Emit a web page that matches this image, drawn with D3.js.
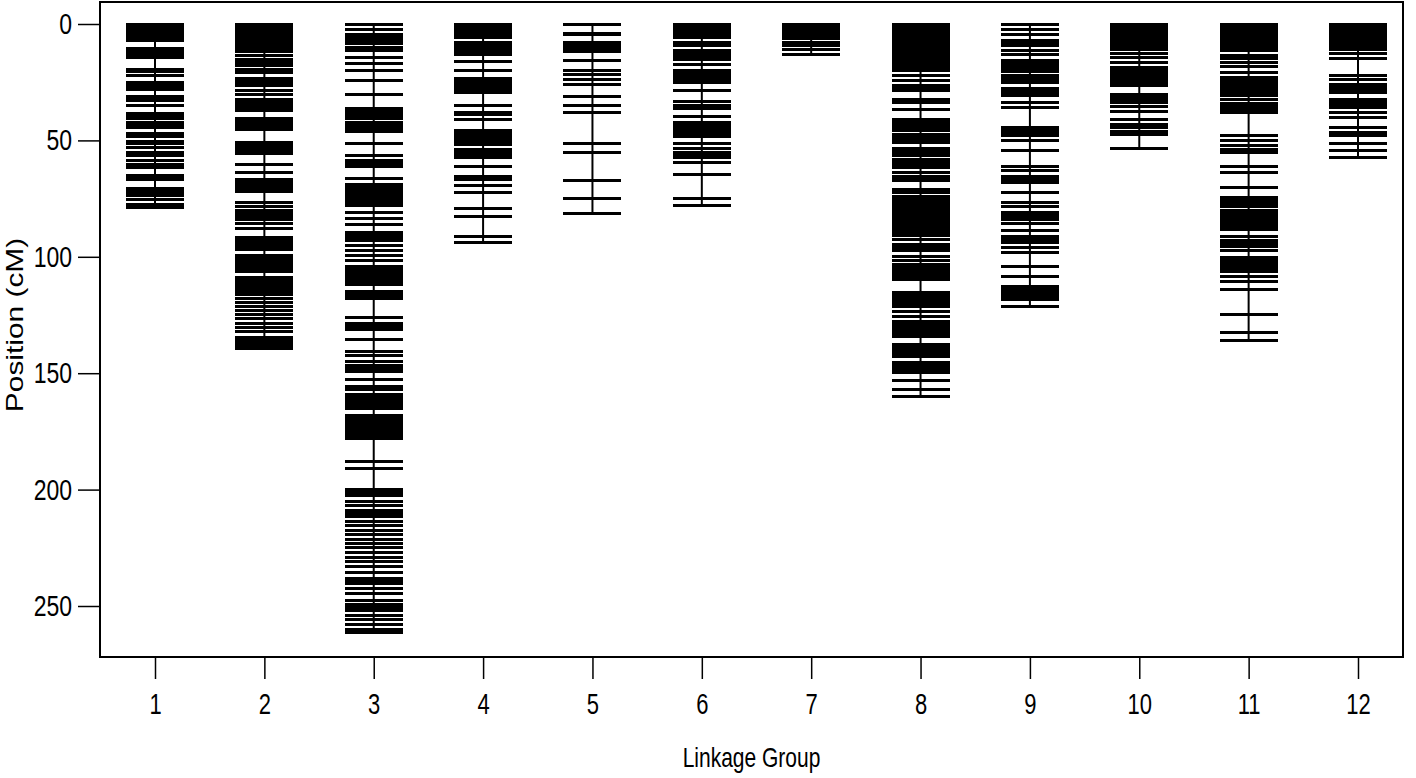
<!DOCTYPE html>
<html>
<head>
<meta charset="utf-8">
<script src="https://cdn.jsdelivr.net/npm/d3@7"></script>
<style>
  body { margin: 0; background: #fff; }
  text { font-family: "Liberation Sans", Arial, sans-serif; fill: #000; }
</style>
</head>
<body>
<div id="chart"></div>
<script>
// linkage groups and marker positions (cM)
const groups = [1, 2, 3, 4, 5, 6, 7, 8, 9, 10, 11, 12];
const yTicks = [0, 50, 100, 150, 200, 250];

const lg1 = [0, 1, 2, 3, 4, 5, 6, 7, 10.5, 11.5, 12.5, 13.5, 14.5, 19.5, 20.3, 22, 25, 26, 27, 28, 31, 32, 33, 35,
  38.5, 39.5, 40.5, 42.5, 43.5, 44.5, 47, 48.5, 50.5, 51.2, 53, 55.2, 56.7, 58.5, 60.5, 61.5, 65, 66, 67,
  70.5, 71.5, 72.5, 73.5, 75.5, 77.5, 79];
const lg2 = [0, 1, 2, 3, 4, 5, 6, 7, 8, 9, 10, 11, 12, 13.6, 15.1, 16.5, 17.9, 19.4, 20.8, 23.5, 24.5, 25.5, 26.5,
  28.7, 30.1, 32.5, 33.5, 34.5, 35.5, 36.5, 37, 40.5, 41.5, 42.5, 43.5, 44.5, 45.5, 51, 52, 53, 54, 55, 55.5,
  60.2, 63.8, 67, 68, 69, 70, 71, 72, 76.7, 78.2, 80, 81, 82, 83, 84, 85.6, 87.9, 91.5, 92.5, 93.5, 94.5, 95.5,
  96.5, 97, 99.4, 100, 101, 102, 103, 104, 105, 106, 106.5, 109, 110, 111, 112, 113, 114, 115, 116, 118, 119.8,
  121.2, 122.9, 124.8, 126.6, 128.7, 130.5, 132.2, 134.5, 135.5, 136.5, 137.5, 138.5, 139.5];
const lg3 = [0, 2.3, 4.5, 6, 7.2, 8.4, 10.1, 11.5, 14.5, 17.1, 19.8, 24.1, 30.3, 36.4, 37.5, 38.6, 39.7, 40.8,
  42.2, 43.5, 44.8, 46, 51.2, 56.4, 58.5, 60, 61, 66.5, 69, 70.3, 71.6, 72.6, 74.3, 75.5, 76.7, 77.8, 80.8, 83.4,
  86, 89.5, 90.7, 91.9, 93, 95, 97.3, 99.4, 101.6, 104, 105.2, 106.4, 107.6, 108.8, 110, 111.2, 112, 114.7, 115.8,
  117, 118.1, 126, 128.6, 130, 131.2, 135.5, 140.7, 142.5, 145, 146.5, 148, 149.4, 152.9, 155.5, 157.2, 159, 160.2,
  161.4, 162.6, 163.8, 165, 168, 169, 170, 171, 172, 173, 174, 175, 176, 177, 178, 188, 191, 200, 201.2, 202.4,
  205, 207, 209, 210.2, 211.4, 213.5, 215.5, 217.5, 219.5, 221.5, 223, 225, 227, 229, 231, 233, 235.5, 238, 239.2,
  240.4, 242.5, 244.5, 247.5, 249.5, 250.7, 251.9, 254, 256, 258, 260, 261.5];
const lg4 = [0, 1, 2, 3, 4, 5, 6, 8, 9, 10, 11, 12, 12.9, 16.2, 20.1, 23.2, 24.2, 25.2, 26.2, 27.2, 28.2, 29.5,
  34.9, 38, 38.8, 41.2, 45.6, 46.7, 47.8, 49.2, 50.5, 51.8, 53.8, 55, 56.2, 57.4, 61.4, 65.3, 66.7, 69.2, 72.4,
  79.2, 82.5, 91.2, 93.8];
const lg5 = [0, 4, 4.6, 7.9, 9.2, 10.5, 11.9, 15.8, 20.1, 21.5, 23.7, 25.8, 31.3, 34.9, 38, 51.3, 55.2, 67.4,
  74.9, 81.3];
const lg6 = [0, 1, 2, 3, 4, 5, 6, 7.9, 9.3, 11.2, 12.5, 13.8, 15.1, 17.2, 20.1, 21.3, 22.5, 23.8, 25.1, 28.7,
  33.4, 34.8, 36.3, 39.7, 42.3, 43.5, 44.7, 45.9, 47.1, 48.3, 51.2, 53.4, 55.2, 56.3, 57.4, 59.5, 64.5, 74.9, 78];
const lg7 = [0, 1, 2, 3, 4, 5, 6.2, 7.9, 9.3, 10.8, 12.9];
const lg8 = [0, 1, 2, 3, 4, 5, 6, 7, 8, 9, 10, 11, 12, 13, 14, 15, 16, 17, 18, 19, 20, 22.2, 24.4, 26.5, 27.6,
  28.7, 32.3, 33.7, 36.6, 40.9, 42.1, 43.4, 44.6, 45.9, 47.3, 48.5, 49.7, 50.9, 53.4, 54.5, 55.6, 56.7, 58.1,
  59.5, 60.6, 61.7, 63.6, 65.5, 66.5, 67.4, 71, 72.5, 73.9, 75.3, 76.3, 77.3, 78.3, 79.3, 80.3, 81.3, 82.3, 83.2,
  84.6, 85.8, 87, 88.2, 89.6, 91, 92.5, 94.7, 95.6, 96.6, 97.5, 99.7, 101.8, 103.3, 104.4, 105.4, 106.5, 107.6,
  108.6, 109.7, 115.4, 116.4, 117.3, 118.3, 119.3, 120.2, 121.2, 123.4, 125.5, 127.7, 129.1, 130.5, 131.7, 132.9,
  134.1, 137.7, 138.7, 139.7, 140.7, 141.7, 142.7, 145.6, 146.7, 147.8, 148.9, 149.9, 153, 157, 160];
const lg9 = [0, 2.2, 4.7, 7.2, 8.2, 9.3, 11.5, 12.9, 15.8, 16.8, 17.8, 18.8, 19.7, 20.5, 22.2, 23.2, 24.2, 25.1,
  27.7, 28.8, 29.9, 30.9, 33.7, 35.8, 44.5, 45.9, 47, 48.1, 50.2, 54.5, 61, 63.1, 65.3, 66.7, 68.1, 72.4, 76.7,
  78.2, 81, 82, 83, 84, 85.5, 88.5, 91.1, 92.5, 93.9, 96.1, 98.2, 104, 108.3, 112.6, 113.7, 114.8, 115.8, 116.9,
  118.3, 121.3];
const lg10 = [0, 1, 2, 3, 4, 5, 6, 7, 8, 9, 10, 11, 12.5, 14.5, 16.5, 18.6, 19.6, 20.6, 21.6, 22.6, 23.6, 24.6,
  25.6, 26.5, 30.1, 31.3, 32.5, 33.7, 35.4, 37.7, 40.9, 43.3, 44.6, 46, 47.3, 53.5];
const lg11 = [0, 1, 2, 3, 4, 5, 6, 7, 8, 9, 10, 11.5, 13.6, 15, 16.5, 18.2, 20.8, 22.9, 24.4, 25.5, 26.6, 27.6,
  28.7, 29.8, 30.9, 32.3, 34, 35.4, 36.7, 38, 48.1, 50.2, 52.4, 53.8, 55.2, 61, 63.6, 70.3, 74.6, 75.8, 77, 78.2,
  80.3, 81.5, 82.7, 83.9, 85.1, 86.1, 87.2, 88.2, 91.3, 93.2, 94.3, 95.4, 97.1, 100.4, 101.5, 102.7, 103.8, 105,
  106.1, 108.3, 110.5, 114, 124.8, 132.4, 135.8];
const lg12 = [0, 1, 2, 3, 4, 5, 6, 7, 8, 9, 10, 11, 12.5, 14.8, 22, 23.7, 25.8, 27, 28.2, 29.4, 32.3, 33.5, 34.6,
  35.8, 38, 40.1, 44.5, 46.6, 48, 51.2, 54.5, 57.5];

const markers = [lg1, lg2, lg3, lg4, lg5, lg6, lg7, lg8, lg9, lg10, lg11, lg12];

const width = 1416, height = 778;
const frame = {left: 100, top: 2, right: 1403, bottom: 657};

const svg = d3.select("#chart")
  .append("svg")
  .attr("width", width)
  .attr("height", height);

const x = d3.scaleLinear().domain([1, 12]).range([155, 1358]);
const y = d3.scaleLinear().domain([0, 250]).range([24, 606]);

// plot box
svg.append("rect")
  .attr("x", frame.left)
  .attr("y", frame.top)
  .attr("width", frame.right - frame.left)
  .attr("height", frame.bottom - frame.top)
  .attr("fill", "none")
  .attr("stroke", "#000")
  .attr("stroke-width", 2);

// y axis
const yAxis = svg.append("g")
  .attr("transform", `translate(${frame.left},0)`)
  .call(d3.axisLeft(y).tickValues(yTicks).tickSize(22).tickPadding(6));
yAxis.select(".domain").remove();
yAxis.selectAll("line").attr("stroke", "#000").attr("stroke-width", 1.5);
yAxis.selectAll("text")
  .attr("font-size", 23)
  .attr("font-family", "'Liberation Sans', Arial, sans-serif")
  .attr("transform", "scale(1,1.3)");

// x axis
const xAxis = svg.append("g")
  .attr("transform", `translate(0,${frame.bottom})`)
  .call(d3.axisBottom(x).tickValues(groups).tickSize(22).tickFormat(d3.format("d")));
xAxis.select(".domain").remove();
xAxis.selectAll("line").attr("stroke", "#000").attr("stroke-width", 1.5);
xAxis.selectAll("text")
  .attr("font-size", 22)
  .attr("font-family", "'Liberation Sans', Arial, sans-serif")
  .attr("y", 0)
  .attr("transform", "translate(0,37) scale(1,1.3)");

// axis titles
svg.append("text")
  .attr("transform", `translate(${(frame.left + frame.right) / 2},757) scale(1,1.3)`)
  .attr("text-anchor", "middle")
  .attr("dy", "0.35em")
  .attr("font-size", 21)
  .text("Linkage Group");

svg.append("text")
  .attr("transform", "translate(15,325) rotate(-90) scale(1.3,1)")
  .attr("text-anchor", "middle")
  .attr("dy", "0.35em")
  .attr("font-size", 23)
  .text("Position (cM)");

// chromosomes: backbone + marker ticks
const half = 29;
const lg = svg.selectAll(".lg")
  .data(groups.map((g, i) => ({group: g, pos: markers[i]})))
  .join("g")
  .attr("class", "lg");

lg.append("line")
  .attr("x1", d => x(d.group))
  .attr("x2", d => x(d.group))
  .attr("y1", d => y(0))
  .attr("y2", d => y(d3.max(d.pos)))
  .attr("stroke", "#000")
  .attr("stroke-width", 2);

lg.selectAll(".mk")
  .data(d => d.pos.map(p => ({group: d.group, p: p})))
  .join("line")
  .attr("class", "mk")
  .attr("x1", d => x(d.group) - half)
  .attr("x2", d => x(d.group) + half)
  .attr("y1", d => y(d.p))
  .attr("y2", d => y(d.p))
  .attr("stroke", "#000")
  .attr("stroke-width", 3)
  .attr("shape-rendering", "crispEdges");
</script>
</body>
</html>
